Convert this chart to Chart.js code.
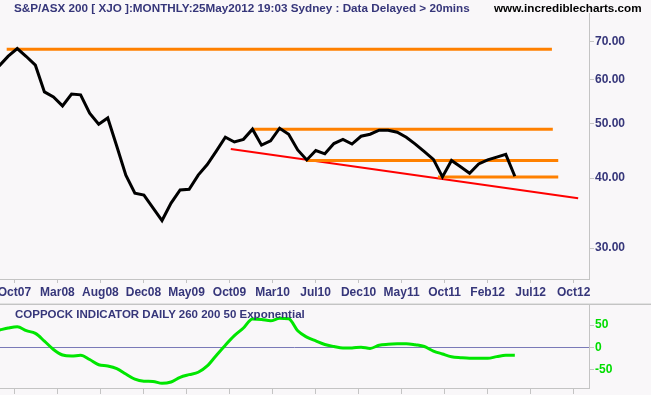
<!DOCTYPE html>
<html lang="en">
<head>
<meta charset="UTF-8">
<title>S&amp;P/ASX 200 Monthly with Coppock</title>
<script src="https://cdn.jsdelivr.net/npm/chart.js@4.4.0/dist/chart.umd.min.js"></script>
<style>
  body { margin:0; width:651px; height:395px; overflow:hidden; position:relative; background:#f9f7f9;
         font-family:'Liberation Sans', Arial, sans-serif; font-weight:bold; }
  .txt { position:absolute; white-space:nowrap; line-height:14px; }
  #head { left:14px; top:1px; font-size:11.7px; color:#36367a; }
  #site { left:494px; top:1px; font-size:11.7px; color:#000; }
  #coppock_title { left:15px; top:307px; font-size:11.5px; color:#36367a; }
  #sep { position:absolute; left:0; top:303px; width:651px; height:1px; background:#e2e2e2; border-bottom:1px solid #c4c4c4; }
  #price_chart { position:absolute; left:0; top:0; }
  #coppock_chart { position:absolute; left:0; top:300px; }
</style>
</head>
<body>
<canvas id="price_chart" width="651" height="300"></canvas>
<div id="sep"></div>
<canvas id="coppock_chart" width="651" height="95"></canvas>
<div class="txt" id="head">S&amp;P/ASX 200 [ XJO ]:MONTHLY:25May2012 19:03 Sydney : Data Delayed &gt; 20mins</div>
<div class="txt" id="site">www.incrediblecharts.com</div>
<div class="txt" id="coppock_title">COPPOCK INDICATOR DAILY 260 200 50 Exponential</div>
<script>
// x axis labels (evenly spaced ticks)
const xLabels = ['Oct07','Mar08','Aug08','Dec08','May09','Oct09','Mar10','Jul10','Dec10','May11','Oct11','Feb12','Jul12','Oct12'];

// monthly close / 100, Sep07 .. May12
const price = [63.4, 66.0, 68.1, 65.9, 63.6, 57.0, 55.8, 53.8, 56.5, 56.3,
               52.2, 49.9, 51.2, 45.6, 40.5, 37.6, 37.3, 35.4, 33.6, 36.1,
               38.1, 38.2, 40.5, 42.3, 44.7, 47.3, 46.4, 46.9, 48.9, 45.8,
               46.6, 49.1, 47.9, 44.9, 43.1, 44.8, 44.2, 46.1, 46.9, 46.0,
               47.5, 47.9, 48.7, 48.7, 48.3, 47.3, 46.0, 44.6, 43.2, 40.2,
               43.0, 41.9, 40.8, 42.4, 43.1, 43.6, 44.1, 40.3];

// coppock indicator, same months
const coppock = [39.0, 43.5, 46.2, 37.6, 31.6, 14.3, -4.5, -17.0, -19.4, -17.4,
                 -27.0, -38.8, -41.6, -47.6, -59.7, -71.2, -75.6, -76.2, -80.6, -77.5,
                 -67.1, -61.0, -55.6, -41.5, -17.9, 5.2, 26.4, 43.7, 64.1, 63.0,
                 59.8, 65.7, 64.6, 37.4, 23.3, 14.6, 6.6, 2.2, -1.2, -1.0,
                 0.4, -2.1, 4.9, 7.0, 8.1, 8.6, 6.0, 2.1, -8.1, -14.6,
                 -20.7, -23.0, -24.4, -24.4, -24.4, -20.6, -17.7, -17.7];

// horizontal support / resistance lines (month index start, end, level)
const levelFrom  = [0.83, 28.1, 33.9, 48.5];
const levelTo    = [61.1, 61.2, 61.8, 61.8];
const levelValue = [67.9, 48.9, 43.0, 40.2];

// falling trendline
const trendFrom = 25.6, trendTo = 64.0;
const trendStart = 45.06, trendEnd = 36.81;

const priceTicks = [30, 40, 50, 60, 70];
const coppockTicks = [50, 0, -50];

const X_MIN = 0.09, X_MAX = 65.2;
const TICK_START = 1.68, TICK_STEP = 4.756;

const NAVY = '#36367a';
const AXIS = '#c4c4c4';

Chart.defaults.font.family = "'Liberation Sans', Arial, sans-serif";

function xScale(showLabels, tickLen, height) {
  return {
    type: 'linear',
    min: X_MIN,
    max: X_MAX,
    afterBuildTicks: s => { s.ticks = xLabels.map((_, k) => ({ value: TICK_START + k * TICK_STEP })); },
    afterFit: s => { s.height = height; s.paddingLeft = 0; s.paddingRight = 0; },
    grid: { drawOnChartArea: false, tickLength: tickLen, color: AXIS },
    border: { color: AXIS },
    ticks: {
      display: showLabels,
      autoSkip: false,
      maxRotation: 0,
      padding: 2,
      color: NAVY,
      font: { size: 12, weight: 'bold' },
      callback: (v, idx) => xLabels[idx]
    }
  };
}

// price panel
new Chart(document.getElementById('price_chart'), {
  type: 'line',
  data: {
    datasets: [
      {
        data: price.map((v, i) => ({ x: i, y: v })),
        borderColor: '#000000',
        borderWidth: 3,
        pointRadius: 0,
        order: 0
      },
      ...levelValue.map((lv, k) => ({
        data: [{ x: levelFrom[k], y: lv }, { x: levelTo[k], y: lv }],
        borderColor: '#ff8000',
        borderWidth: 3,
        pointRadius: 0,
        order: 1
      })),
      {
        data: [{ x: trendFrom, y: trendStart }, { x: trendTo, y: trendEnd }],
        borderColor: '#ff0000',
        borderWidth: 2,
        pointRadius: 0,
        order: 2
      }
    ]
  },
  options: {
    responsive: false,
    animation: false,
    layout: { padding: { top: 13, left: 0, right: 0, bottom: 0 } },
    plugins: { legend: { display: false }, tooltip: { enabled: false } },
    scales: {
      x: xScale(true, 4, 21),
      y: {
        type: 'logarithmic',
        position: 'right',
        min: 26.43,
        max: 78.8,
        afterBuildTicks: s => { s.ticks = priceTicks.map(v => ({ value: v })); },
        afterFit: s => { s.width = 62; s.paddingTop = 0; s.paddingBottom = 0; },
        grid: { drawOnChartArea: false, tickLength: 5, color: AXIS },
        border: { color: AXIS },
        ticks: {
          autoSkip: false,
          padding: 1,
          color: NAVY,
          font: { size: 12, weight: 'bold' },
          callback: v => Number(v).toFixed(2)
        }
      }
    }
  }
});

// coppock panel
new Chart(document.getElementById('coppock_chart'), {
  type: 'line',
  data: {
    datasets: [{
      data: coppock.map((v, i) => ({ x: i, y: v })),
      borderColor: '#00e600',
      borderWidth: 3,
      pointRadius: 0,
      cubicInterpolationMode: 'monotone'
    }]
  },
  options: {
    responsive: false,
    animation: false,
    layout: { padding: { top: 5, left: 0, right: 0, bottom: 0 } },
    plugins: { legend: { display: false }, tooltip: { enabled: false } },
    scales: {
      x: xScale(false, 6, 7),
      y: {
        type: 'linear',
        position: 'right',
        min: -91,
        max: 95.3,
        afterBuildTicks: s => { s.ticks = coppockTicks.map(v => ({ value: v })); },
        afterFit: s => { s.width = 62; s.paddingTop = 0; s.paddingBottom = 0; },
        grid: {
          drawOnChartArea: true,
          tickLength: 5,
          tickColor: AXIS,
          color: ctx => (ctx.tick && ctx.tick.value === 0) ? '#7a7ab8' : 'rgba(0,0,0,0)'
        },
        border: { color: AXIS },
        ticks: {
          autoSkip: false,
          padding: 1,
          color: '#00dd00',
          font: { size: 12, weight: 'bold' },
          callback: v => v
        }
      }
    }
  }
});
</script>
</body>
</html>
